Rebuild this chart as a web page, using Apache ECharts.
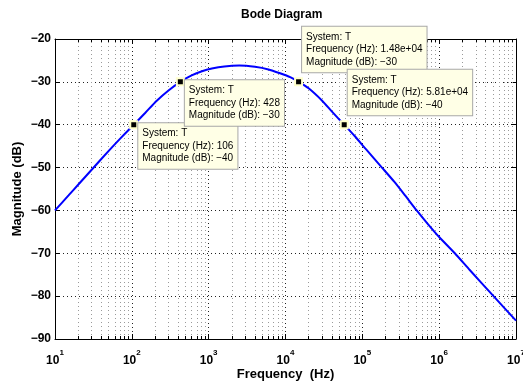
<!DOCTYPE html>
<html><head><meta charset="utf-8">
<script src="https://cdn.jsdelivr.net/npm/echarts@6/dist/echarts.min.js"></script>
<style>html,body{margin:0;padding:0;background:#fff}#c{width:523px;height:382px}</style>
</head><body><div id="c"></div>
<script>
// ---- data ----
const freqHz = [10, 15, 20, 30, 50, 70, 106, 150, 211, 300, 428, 600, 800, 1100, 1600, 2500, 4000, 6000, 8500, 11500, 14800, 20000, 30000, 40000, 58100, 80000, 110000, 180000, 260000, 360000, 510000, 700000, 1000000, 1600000, 2500000, 5100000, 10000000];
const magDb  = [-60.0, -56.5, -54.0, -50.5, -46.1, -43.3, -40.0, -37.2, -34.4, -32.0, -30.0, -28.5, -27.6, -26.9, -26.4, -26.2, -26.5, -27.1, -28.0, -28.9, -30.0, -31.5, -34.4, -36.9, -40.0, -42.7, -45.6, -50.0, -53.3, -56.5, -60.0, -63.0, -66.2, -70.0, -73.9, -80.0, -85.7];

const tipFreq = [106, 428, 14800, 58100];
const tipFreqText = ['106', '428', '1.48e+04', '5.81e+04'];
const tipMag = [-40, -30, -30, -40];
const tipAbove = [false, false, true, true];

const yTicks = [-90, -80, -70, -60, -50, -40, -30, -20];
const decades = [10, 100, 1000, 10000, 100000, 1000000];
const minorMult = [2, 3, 4, 5, 6, 7, 8, 9];

const FONT = "'Liberation Sans', Arial, Helvetica, sans-serif";
const yMin = yTicks[0], yMax = yTicks[yTicks.length - 1];

const minorFreq = [];
decades.forEach(d => minorMult.forEach(m => minorFreq.push(m * d)));

const gridLines = minorFreq.map(f => ({ xAxis: f }));
const tickSegs = [];
minorFreq.forEach(f => {
  tickSegs.push([{ coord: [f, yMin] }, { coord: [f, yMin + 0.7] }]);
  tickSegs.push([{ coord: [f, yMax] }, { coord: [f, yMax - 0.7] }]);
});

const minus = v => (v < 0 ? '\u2212' + (-v) : String(v));

const tips = tipFreq.map((f, i) => ({
  coord: [f, tipMag[i]],
  label: {
    show: true,
    formatter: 'System: T\nFrequency (Hz): ' + tipFreqText[i] + '\nMagnitude (dB): ' + minus(tipMag[i]),
    position: tipAbove[i] ? [8, -5] : [9, 3],
    align: 'left',
    verticalAlign: tipAbove[i] ? 'bottom' : 'top',
    backgroundColor: '#ffffe6',
    borderColor: '#a8a8a8',
    borderWidth: 1,
    padding: [4, 4, 4, 4],
    lineHeight: 12.5,
    fontSize: 10,
    color: '#000',
    fontFamily: FONT
  }
}));

const xLabel = {
  formatter: v => '{b|10}{e|' + Math.round(Math.log10(v)) + '}',
  margin: 14,
  color: '#000',
  rich: {
    b: { fontSize: 12, fontWeight: 'bold', lineHeight: 14, verticalAlign: 'bottom', fontFamily: FONT, color: '#000' },
    e: { fontSize: 8, fontWeight: 'bold', lineHeight: 10, padding: [0, 0, 10, 0], verticalAlign: 'bottom', fontFamily: FONT, color: '#000' }
  }
};

const chart = echarts.init(document.getElementById('c'), null, { renderer: 'canvas' });
chart.setOption({
  animation: false,
  backgroundColor: '#fff',
  title: {
    text: 'Bode Diagram',
    left: 241, top: 9, padding: 0,
    textStyle: { fontSize: 12, fontWeight: 'bold', color: '#000', fontFamily: FONT }
  },
  grid: { left: 55, top: 39, right: 7, bottom: 43, containLabel: false, outerBoundsMode: 'none' },
  xAxis: [{
    type: 'log', logBase: 10, min: decades[0], max: 1e7, splitNumber: 6, position: 'bottom',
    axisLine: { show: true, onZero: false, lineStyle: { color: '#000', width: 1 } },
    axisTick: { show: true, inside: true, length: 5, lineStyle: { color: '#000' } },
    axisLabel: xLabel,
    splitLine: { show: true, lineStyle: { color: '#222', type: [1, 3], width: 1 } },
    name: 'Frequency  (Hz)', nameLocation: 'middle', nameGap: 29, nameMoveOverlap: false,
    nameTextStyle: { fontSize: 13, fontWeight: 'bold', color: '#000', fontFamily: FONT }
  }, {
    type: 'log', logBase: 10, min: decades[0], max: 1e7, splitNumber: 6, position: 'top',
    axisLine: { show: true, onZero: false, lineStyle: { color: '#000', width: 1 } },
    axisTick: { show: true, inside: true, length: 5, lineStyle: { color: '#000' } },
    axisLabel: { show: false }, splitLine: { show: false }
  }],
  yAxis: [{
    type: 'value', min: yMin, max: yMax, interval: 10, position: 'left',
    axisLine: { show: true, onZero: false, lineStyle: { color: '#000', width: 1 } },
    axisTick: { show: true, inside: true, length: 5, lineStyle: { color: '#000' } },
    axisLabel: { formatter: minus, margin: 4, fontSize: 12, fontWeight: 'bold', color: '#000', fontFamily: FONT },
    splitLine: { show: true, lineStyle: { color: '#222', type: [1, 3], width: 1 } },
    name: 'Magnitude (dB)', nameLocation: 'middle', nameGap: 31, nameMoveOverlap: false,
    nameTextStyle: { fontSize: 13, fontWeight: 'bold', color: '#000', fontFamily: FONT }
  }, {
    type: 'value', min: yMin, max: yMax, interval: 10, position: 'right',
    axisLine: { show: true, onZero: false, lineStyle: { color: '#000', width: 1 } },
    axisTick: { show: true, inside: true, length: 5, lineStyle: { color: '#000' } },
    axisLabel: { show: false }, splitLine: { show: false }
  }],
  series: [{
    type: 'line', xAxisIndex: 0, yAxisIndex: 0, data: [], silent: true, z: 1,
    markLine: {
      silent: true, symbol: 'none', z: 1, animation: false,
      label: { show: false },
      lineStyle: { color: '#9a9a9a', type: [1, 3], width: 1 },
      data: gridLines
    }
  }, {
    type: 'line', xAxisIndex: 0, yAxisIndex: 0, data: [], silent: true, z: 1,
    markLine: {
      silent: true, symbol: 'none', z: 2, animation: false,
      label: { show: false },
      lineStyle: { color: '#000', type: 'solid', width: 1 },
      data: tickSegs
    }
  }, {
    name: 'T', type: 'line', xAxisIndex: 0, yAxisIndex: 0, z: 3,
    data: freqHz.map((f, i) => [f, magDb[i]]),
    showSymbol: false, smooth: 0.2,
    lineStyle: { color: '#0000ff', width: 2 },
    markPoint: {
      silent: true, z: 6, animation: false,
      symbol: 'rect', symbolSize: 7,
      itemStyle: { color: '#000', borderColor: '#ffffcc', borderWidth: 2 },
      data: tips
    }
  }]
});
</script></body></html>
